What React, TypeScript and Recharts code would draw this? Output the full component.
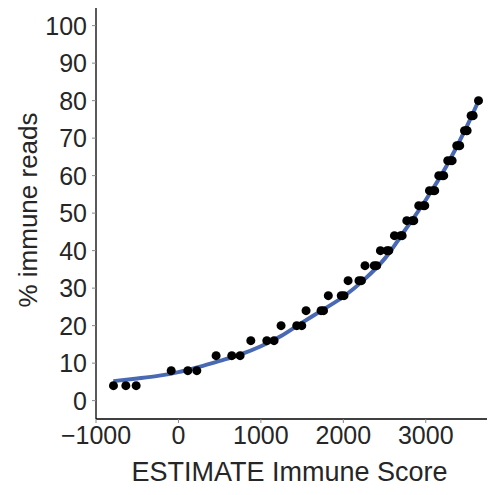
import React from 'react';
import { ComposedChart, Scatter, Line, XAxis, YAxis } from 'recharts';

// values
const pointX = [
    -788, -638, -513,
    -88, 114, 223,
    457, 647, 748,
    878, 1072, 1160,
    1245, 1435, 1496,
    1548, 1730, 1760,
    1818, 1975, 2008,
    2058, 2190, 2220,
    2263, 2375, 2405,
    2450, 2530, 2552,
    2620, 2695, 2714,
    2770, 2835, 2855,
    2915, 2970, 2988,
    3045, 3090, 3109,
    3158, 3200, 3218,
    3267, 3305, 3320,
    3376, 3400, 3412,
    3470, 3495, 3502,
    3550, 3568, 3575,
    3640,
];
const pointY = [
    4, 4, 4,
    8, 8, 8,
    12, 12, 12,
    16, 16, 16,
    20, 20, 20,
    24, 24, 24,
    28, 28, 28,
    32, 32, 32,
    36, 36, 36,
    40, 40, 40,
    44, 44, 44,
    48, 48, 48,
    52, 52, 52,
    56, 56, 56,
    60, 60, 60,
    64, 64, 64,
    68, 68, 68,
    72, 72, 72,
    76, 76, 76,
    80,
];

// fitted curve
const curveX = [-790, -500, -250, 0, 250, 500, 750, 1000, 1250, 1500, 1750, 2000, 2250, 2500, 2750, 3000, 3250, 3500, 3645];
const curveY = [5.2, 5.9, 6.6, 7.6, 9.0, 10.6, 12.3, 14.5, 17.3, 20.8, 24.2, 27.7, 32.2, 37.8, 45.5, 53.5, 62.5, 73.2, 80.2];

const xTicks = [-1000, 0, 1000, 2000, 3000];
const yTicks = [0, 10, 20, 30, 40, 50, 60, 70, 80, 90, 100];

const points = pointX.map((x, i) => ({ x, y: pointY[i] }));
const curve = curveX.map((x, i) => ({ x, y: curveY[i] }));

const font = '"Liberation Sans", Arial, Helvetica, sans-serif';
const tickStyle = { fill: '#262626', fontSize: 25, fontFamily: font };

const Dot = (props: any) => <circle cx={props.cx} cy={props.cy} r={4.5} fill="#000" />;

const XTitle = (props: any) => {
    const vb = props.viewBox;
    return (
        <text x={vb.x + vb.width / 2 - 6} y={vb.y + 62} textAnchor="middle" fontSize={27} fontFamily={font} fill="#262626">
            ESTIMATE Immune Score
        </text>
    );
};

const YTitle = () => (
    <text
        x={28.5}
        y={202}
        transform="rotate(-90, 28.5, 202)"
        textAnchor="middle"
        fontSize={26}
        fontFamily={font}
        fill="#262626"
    >
        % immune reads
    </text>
);

export default function App() {
    return (
        <ComposedChart width={487} height={487} margin={{ top: 0, right: 0, bottom: 0, left: 0 }}>
            <XAxis
                type="number"
                dataKey="x"
                domain={[-1000, 3840]}
                ticks={xTicks}
                allowDataOverflow
                height={76}
                tick={tickStyle}
                tickSize={4}
                tickMargin={3}
                tickLine={{ stroke: '#888' }}
                axisLine={{ stroke: '#000', strokeWidth: 1.3 }}
                tickFormatter={(v: number) => String(v).replace('-', '\u2212')}
                label={<XTitle />}
            />
            <YAxis
                type="number"
                dataKey="y"
                domain={[-4.9, 104.7]}
                ticks={yTicks}
                allowDataOverflow
                width={88}
                tick={tickStyle}
                tickSize={4}
                tickMargin={5}
                tickLine={{ stroke: '#888' }}
                axisLine={{ stroke: '#000', strokeWidth: 1.3 }}
                label={<YTitle />}
            />
            <Scatter data={points} dataKey="y" shape={<Dot />} isAnimationActive={false} />
            <Line
                data={curve}
                dataKey="y"
                type="monotone"
                stroke="#4a69b3"
                strokeWidth={4}
                dot={false}
                activeDot={false}
                isAnimationActive={false}
            />
        </ComposedChart>
    );
}
